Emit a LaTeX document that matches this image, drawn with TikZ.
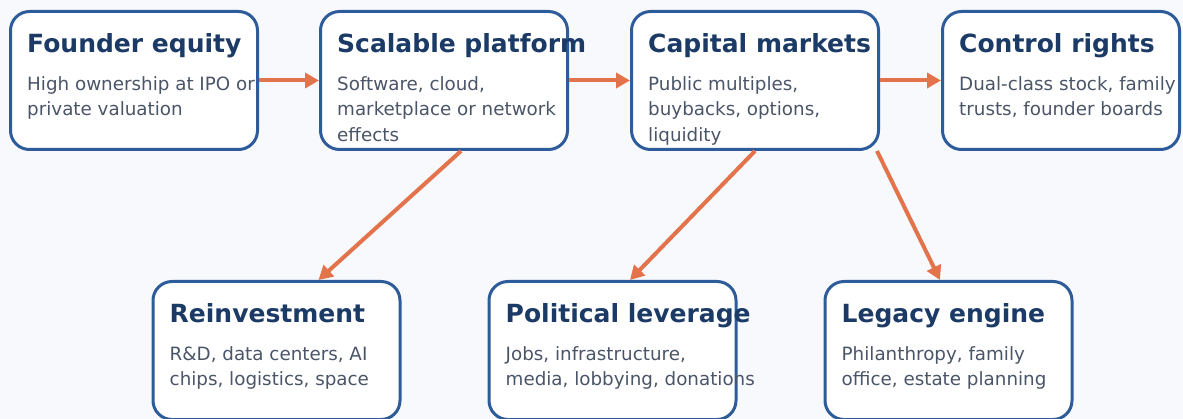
\documentclass[tikz,border=0pt]{standalone}
\usepackage{fontspec}
\setmainfont{DejaVu Sans}
\usetikzlibrary{arrows.meta}

\tikzset{
  card/.style={draw=CardBlue, line width=3pt, fill=white, rounded corners=19pt,
    minimum height=138pt, inner sep=0pt},
  heading/.style={anchor=base west, inner sep=0pt, text=HeadBlue,
    font=\fontsize{25}{28}\selectfont\bfseries},
  blurb/.style={anchor=north west, inner sep=0pt, text=BodyGray, align=left,
    font=\fontsize{18.3}{25.5}\selectfont, execute at begin node={\rule{0pt}{15pt}}},
  flow/.style={draw=FlowOrange, line width=4pt,
    -{Triangle[length=14pt,width=15pt]}}
}

\begin{document}
\begin{tikzpicture}[x=1pt, y=-1pt]
\definecolor{PageTint}{RGB}{247, 249, 253}
\definecolor{CardBlue}{RGB}{46, 92, 154}
\definecolor{HeadBlue}{RGB}{27, 58, 102}
\definecolor{BodyGray}{RGB}{75, 85, 104}
\definecolor{FlowOrange}{RGB}{227, 115, 74}
\fill[PageTint] (0,0) rectangle (1183,419);
\clip (0,0) rectangle (1183,419);
% cards: name / centre x / centre y / width / heading / text
\foreach \n/\x/\y/\w/\h/\t in {
  equity/134/80.5/247/{Founder equity}/{High ownership at IPO or\\private valuation},
  platform/444/80.5/247/{Scalable platform}/{Software, cloud,\\marketplace or network\\effects},
  markets/755/80.5/247/{Capital markets}/{Public multiples,\\buybacks, options,\\liquidity},
  control/1061/80.5/237/{Control rights}/{Dual-class stock, family\\trusts, founder boards},
  reinvest/276.5/350.5/247/{Reinvestment}/{R\&D, data centers, AI\\chips, logistics, space},
  politics/612.5/350.5/247/{Political leverage}/{Jobs, infrastructure,\\media, lobbying, donations},
  legacy/948.5/350.5/247/{Legacy engine}/{Philanthropy, family\\office, estate planning}}{
\node[card, minimum width=\w pt] (\n) at (\x,\y) {};
\node[heading] (\n-head) at (\x-\w/2+16.5, \y-69+41.5) {\h};
\node[blurb] (\n-text) at (\x-\w/2+16.5, \y-69+79.5-15) {\t};
}
\draw[flow] (equity.east) -- (platform.west);
\draw[flow] (platform.east) -- (markets.west);
\draw[flow] (markets.east) -- (control.west);
\draw[flow] ([xshift=17pt]platform.south) -- ([xshift=42pt]reinvest.north);
\draw[flow] (markets.south) -- ([xshift=17.5pt]politics.north);
\draw[flow] ([xshift=122pt]markets.south) -- ([xshift=-8.5pt]legacy.north);
\end{tikzpicture}
\end{document}
